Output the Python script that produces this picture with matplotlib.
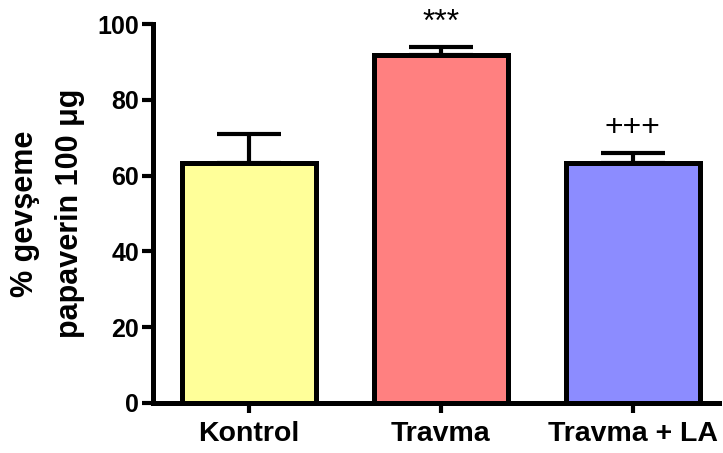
import matplotlib
matplotlib.use("Agg")
import matplotlib.pyplot as plt

categories = ["Kontrol", "Travma", "Travma + LA"]
means = [63.2, 91.8, 63.2]
errors = [7.8, 2.0, 2.8]
colors = ["#FFFF99", "#FF8080", "#8C8CFF"]
annotations = ["", "***", "+++"]
yticks = [0, 20, 40, 60, 80, 100]

plt.rcParams['font.family'] = ['Liberation Sans', 'DejaVu Sans']

fig = plt.figure(figsize=(7.23, 4.53), dpi=100)
ax = fig.add_axes([153/723, 50/453, 566/723, 379/453])

x = list(range(len(categories)))
ax.bar(x, means, width=0.70, color=colors, edgecolor="black", linewidth=3.6, zorder=2)
ax.errorbar(x, means, yerr=[[0]*3, errors], fmt="none", ecolor="black",
            elinewidth=3.0, capsize=23, capthick=3.0, zorder=3)

for xi, m, e, a in zip(x, means, errors, annotations):
    if a:
        ax.text(xi, m + e + 4.5, a, ha="center", va="baseline", fontsize=23,
                color="black", clip_on=False)

ax.set_xlim(-0.5, 2.45)
ax.set_ylim(0, 100)
ax.set_yticks(yticks)
ax.set_xticks(x)
ax.set_xticklabels(categories, fontsize=20.5, fontweight="bold")
ax.set_yticklabels([str(t) for t in yticks], fontsize=18, fontweight="bold")

for s in ["top", "right"]:
    ax.spines[s].set_visible(False)
for s in ["left", "bottom"]:
    ax.spines[s].set_linewidth(3.6)
ax.tick_params(axis="y", length=8, width=3.0, pad=2)
ax.tick_params(axis="x", length=7, width=3.0, pad=6)

ax.set_ylabel("% gevşeme\npapaverin 100 μg", fontsize=22, fontweight="bold",
              linespacing=1.65, labelpad=9)

fig.savefig("out.png", dpi=100)
